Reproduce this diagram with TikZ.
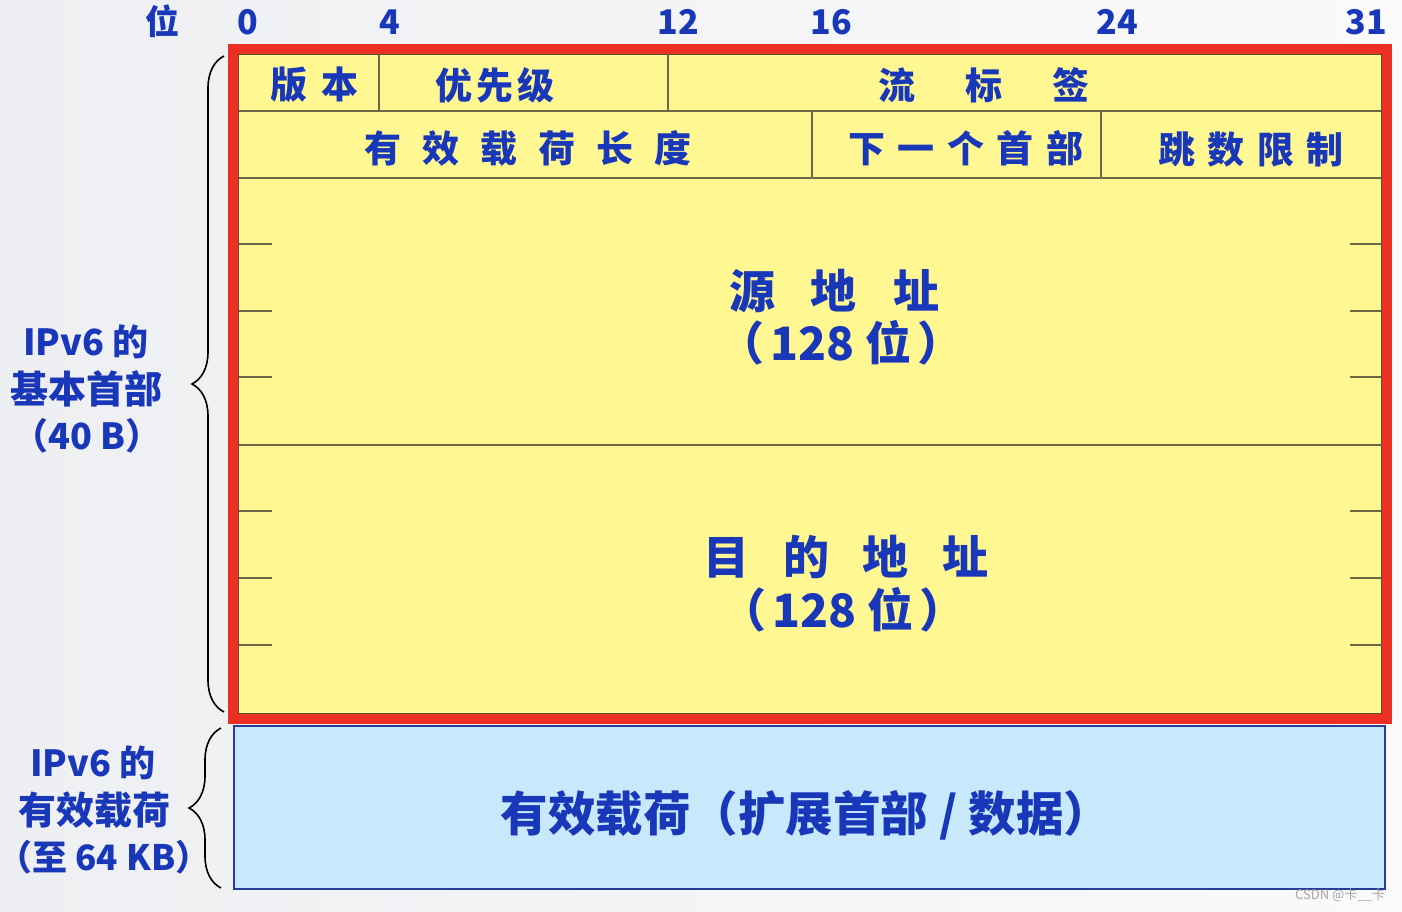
\documentclass[tikz,border=0pt]{standalone}
\usepackage{fontspec}
\setmainfont{Noto Sans CJK SC}
\usetikzlibrary{decorations.pathreplacing}
\definecolor{txt}{RGB}{25,55,185}
\definecolor{frame}{RGB}{236,48,36}
\definecolor{yel}{RGB}{255,247,145}
\definecolor{pay}{RGB}{200,232,252}
\definecolor{payedge}{RGB}{40,60,150}
\definecolor{grid}{RGB}{110,104,70}
\definecolor{bgL}{RGB}{238,239,242}
\definecolor{bgR}{RGB}{250,250,251}
\newcommand\fsz[1]{\fontsize{#1}{#1}\selectfont}
\newcommand\g[1]{\hspace{#1pt}}
\begin{document}
\begin{tikzpicture}[x=1pt,y=-1pt,
  lbl/.style={inner sep=0pt,text=txt,font=\bfseries\fsz{37}},
  big/.style={inner sep=0pt,text=txt,font=\bfseries\fsz{46}},
  side/.style={inner sep=0pt,text=txt,font=\bfseries\fsz{38}},
  bitno/.style={inner sep=0pt,text=txt,font=\bfseries\fsz{34}},
  gridline/.style={draw=grid,line width=1.3pt},
  bracestyle/.style={draw=black,line width=1.6pt,decorate,decoration={brace,amplitude=32pt,aspect=0.5}}]
\useasboundingbox (0,0) rectangle (1402,911);
\shade[left color=bgL,right color=bgR] (0,0) rectangle (1402,911);
% header box
\fill[yel] (238,54) rectangle (1382,714);
\coordinate (r1L) at (238,111); \coordinate (r1R) at (1382,111);
\coordinate (r2L) at (238,178); \coordinate (r2R) at (1382,178);
\coordinate (midL) at (238,445); \coordinate (midR) at (1382,445);
\draw[gridline] (r1L) -- (r1R);
\draw[gridline] (r2L) -- (r2R);
\draw[gridline] (midL) -- (midR);
\draw[gridline] (379,54) -- (379,111);
\draw[gridline] (668,54) -- (668,111);
\draw[gridline] (812,111) -- (812,178);
\draw[gridline] (1101,111) -- (1101,178);
\foreach \yy in {244,311,377,511,578,645}{
  \draw[gridline] (238,\yy) -- (272,\yy);
  \draw[gridline] (1350,\yy) -- (1382,\yy);
}
\draw[draw=grid!80!black,line width=1.2pt] (238.6,54.6) rectangle (1381.4,713.4);
\draw[frame,line width=10.5pt] (233,49) rectangle (1387,719);
% payload box
\draw[fill=pay,draw=payedge,line width=2pt] (234,726) rectangle (1385,889);
% bit numbers
\node[bitno] (wei) at (162,21) {位};
\node[bitno] (b0) at (248,22) {0};
\node[bitno] (b4) at (390,22) {4};
\node[bitno] (b12) at (678,22) {12};
\node[bitno] (b16) at (831,22) {16};
\node[bitno] (b24) at (1117,22) {24};
\node[bitno] (b31) at (1366,22) {31};
% fields
\node[lbl] (ver) at (314.5,85) {版\g{14}本};
\node[lbl] (pri) at (495,85) {优\g{4}先\g{4}级};
\node[lbl] (flow) at (984,85) {流\g{50}标\g{50}签};
\node[lbl] (plen) at (528,148) {有\g{21}效\g{21}载\g{21}荷\g{21}长\g{21}度};
\node[lbl] (next) at (966,148) {下\g{12.5}一\g{12.5}个\g{12.5}首\g{12.5}部};
\node[lbl] (hop) at (1251,150) {跳\g{12.3}数\g{12.3}限\g{12.3}制};
\node[big] (src) at (834,291) {源\g{36}地\g{36}址};
\node[big] (srcb) at (841,343) {（\g{6}128 位\g{6}）};
\node[big] (dst) at (846,557) {目\g{34}的\g{34}地\g{34}址};
\node[big] (dstb) at (843,610) {（\g{6}128 位\g{6}）};
\node[big,font=\bfseries\fsz{47.5}] (payload) at (806,815) {有效载荷（扩展首部 / 数据）};
% side labels
\node[side,font=\bfseries\fsz{36}] (h1) at (86,342) {IPv6 的};
\node[side] (h2) at (86,389) {基本首部};
\node[side,font=\bfseries\fsz{36}] (h3) at (87,436) {（40 B）};
\node[side,font=\bfseries\fsz{36}] (p1) at (93,763) {IPv6 的};
\node[side] (p2) at (94,810) {有效载荷};
\node[side,font=\bfseries\fsz{35}] (p3) at (104,857) {\kern-16pt（至 64 KB）\kern-16pt};
% braces
\coordinate (hb) at (224,712); \coordinate (ht) at (224,56);
\coordinate (pb) at (221,888); \coordinate (pt) at (221,728);
\draw[bracestyle] (hb) -- (ht);
\draw[bracestyle] (pb) -- (pt);
% watermark
\node[inner sep=0pt,text=gray!70,font=\fsz{13}] (wm) at (1340,895) {CSDN @卡\_\_卡};
\end{tikzpicture}
\end{document}
